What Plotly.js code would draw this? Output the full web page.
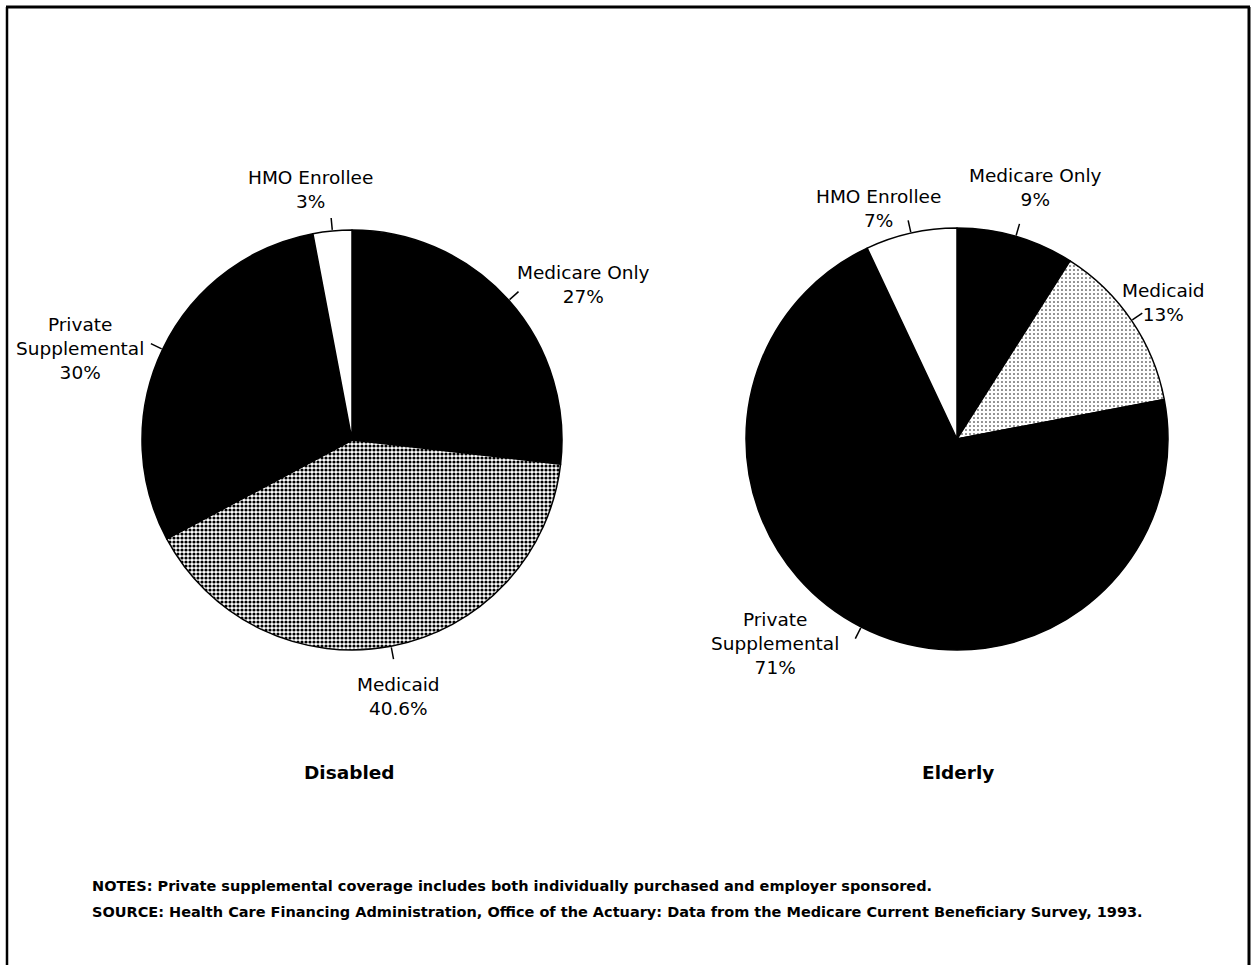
<!DOCTYPE html>
<html>
<head>
<meta charset="utf-8">
<script src="https://cdn.plot.ly/plotly-3.0.1.min.js"></script>
<style>html,body{margin:0;padding:0;background:#fff;}#chart{width:1255px;height:965px;}</style>
</head>
<body>
<div id="chart"></div>
<script>
// ---- data ----
const categories = ["Medicare Only", "Medicaid", "Private<br>Supplemental", "HMO Enrollee"];
const disabledValues = [27, 40.6, 30, 3];
const elderlyValues = [9, 13, 71, 7];
const groupTitles = ["Disabled", "Elderly"];
const notesText = "NOTES: Private supplemental coverage includes both individually purchased and employer sponsored.";
const sourceText = "SOURCE: Health Care Financing Administration, Office of the Actuary: Data from the Medicare Current Beneficiary Survey, 1993.";

// ---- layout helpers (pixels -> paper) ----
const W = 1255, H = 965;
const px = x => x / W;
const py = y => 1 - y / H;
const FONT = "DejaVu Sans, Liberation Sans, Arial, sans-serif";

const pies = [
  {values: disabledValues, cx: 352, cy: 440, r: 210, medicaidSolidity: 0.5,
   labelPos: [[583, 285], [398, 696], [80, 348], [310, 189]]},
  {values: elderlyValues, cx: 957, cy: 439, r: 211, medicaidSolidity: 0.12,
   labelPos: [[1035, 188], [1163, 302], [775, 643], [878, 208]]}
];

const traces = [];
const annotations = [];
const shapes = [];

pies.forEach((p, k) => {
  traces.push({
    type: "pie",
    values: p.values,
    labels: categories,
    sort: false,
    direction: "clockwise",
    rotation: 0,
    textinfo: "none",
    hoverinfo: "label+value",
    showlegend: false,
    domain: {x: [px(p.cx - p.r), px(p.cx + p.r)], y: [py(p.cy + p.r), py(p.cy - p.r)]},
    marker: {
      colors: ["#000000", "#ffffff", "#000000", "#ffffff"],
      line: {color: "#000000", width: 1.5},
      pattern: {
        shape: ["", ".", "", ""],
        fgcolor: "#000000",
        bgcolor: "#ffffff",
        size: 4,
        solidity: p.medicaidSolidity
      }
    }
  });
  // leader ticks at slice mid-angles
  const total = p.values.reduce((a, b) => a + b, 0);
  let cum = 0;
  p.values.forEach((v, i) => {
    const mid = (cum + v / 2) / total * 2 * Math.PI;
    cum += v;
    const r1 = p.r + 1, r2 = p.r + 13;
    shapes.push({
      type: "line", xref: "paper", yref: "paper",
      x0: px(p.cx + r1 * Math.sin(mid)), y0: py(p.cy - r1 * Math.cos(mid)),
      x1: px(p.cx + r2 * Math.sin(mid)), y1: py(p.cy - r2 * Math.cos(mid)),
      line: {color: "#000", width: 1.5}
    });
    annotations.push({
      xref: "paper", yref: "paper",
      x: px(p.labelPos[i][0]), y: py(p.labelPos[i][1]),
      xanchor: "center", yanchor: "middle", align: "center",
      showarrow: false,
      text: categories[i] + "<br>" + v + "%",
      font: {family: FONT, size: 18.5, color: "#000"}
    });
  });
  annotations.push({
    xref: "paper", yref: "paper",
    x: px(k === 0 ? 350 : 958), y: py(772),
    xanchor: "center", yanchor: "middle", showarrow: false,
    text: "<b>" + groupTitles[k] + "</b>",
    font: {family: FONT, size: 18.5, color: "#000"}
  });
});

annotations.push({
  xref: "paper", yref: "paper", x: px(90), y: py(886), xanchor: "left", yanchor: "middle",
  showarrow: false, text: "<b>" + notesText + "</b>", font: {family: FONT, size: 14.5, color: "#000"}
});
annotations.push({
  xref: "paper", yref: "paper", x: px(90), y: py(912), xanchor: "left", yanchor: "middle",
  showarrow: false, text: "<b>" + sourceText + "</b>", font: {family: FONT, size: 14.5, color: "#000"}
});

// frame
shapes.push({type: "line", xref: "paper", yref: "paper", x0: px(6), x1: px(1250), y0: py(7), y1: py(7), line: {color: "#000", width: 3}});
shapes.push({type: "line", xref: "paper", yref: "paper", x0: px(7), x1: px(7), y0: py(7), y1: py(965), line: {color: "#000", width: 2.5}});
shapes.push({type: "line", xref: "paper", yref: "paper", x0: px(1249), x1: px(1249), y0: py(7), y1: py(965), line: {color: "#000", width: 3}});

Plotly.newPlot("chart", traces, {
  width: W, height: H,
  margin: {l: 0, r: 0, t: 0, b: 0},
  paper_bgcolor: "#fff",
  plot_bgcolor: "#fff",
  annotations: annotations,
  shapes: shapes
}, {displayModeBar: false, staticPlot: true});
</script>
</body>
</html>
